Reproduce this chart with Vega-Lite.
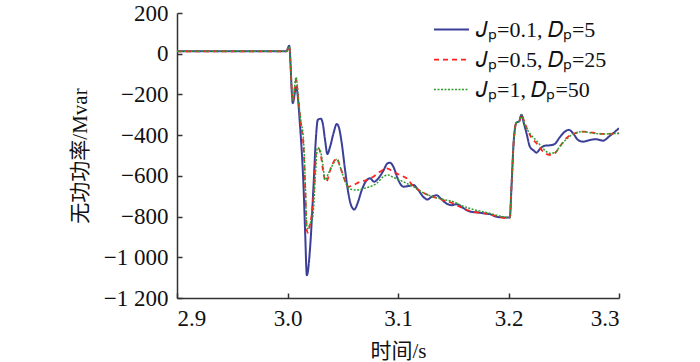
{
  "$schema": "https://vega.github.io/schema/vega-lite/v6.json",
  "autosize": {"type": "none"},
  "padding": {"left": 177, "top": 13, "right": 81, "bottom": 64},
  "width": 442,
  "height": 285,
  "background": "white",
  "config": {
    "font": "Liberation Serif, Times New Roman, serif",
    "view": {"stroke": null},
    "axis": {
      "grid": false,
      "domainColor": "#333333",
      "domainWidth": 1.5,
      "tickColor": "#333333",
      "tickWidth": 1.5,
      "tickSize": -5,
      "labelFont": "Liberation Serif, Times New Roman, serif",
      "labelFontSize": 23,
      "labelColor": "#111111",
      "titleFont": "Liberation Serif, Times New Roman, Noto Sans CJK SC, serif",
      "titleFontSize": 21,
      "titleFontWeight": "normal",
      "titleColor": "#111111"
    },
    "legend": {
      "labelFont": "Liberation Serif, Times New Roman, serif"
    }
  },
  "data": {"values": [
    {"s":"a","t":2.9,"q":12},{"s":"a","t":2.999,"q":12},{"s":"a","t":3.0015,"q":39},{"s":"a","t":3.0048,"q":-243},{"s":"a","t":3.0078,"q":-164},{"s":"a","t":3.0114,"q":-358},{"s":"a","t":3.0145,"q":-653},{"s":"a","t":3.016,"q":-883},{"s":"a","t":3.0175,"q":-1088},{"s":"a","t":3.0205,"q":-949},{"s":"a","t":3.0235,"q":-653},{"s":"a","t":3.0256,"q":-424},{"s":"a","t":3.0274,"q":-325},{"s":"a","t":3.0301,"q":-319},{"s":"a","t":3.0319,"q":-342},{"s":"a","t":3.034,"q":-424},{"s":"a","t":3.0361,"q":-493},{"s":"a","t":3.0386,"q":-456},{"s":"a","t":3.0416,"q":-391},{"s":"a","t":3.0446,"q":-345},{"s":"a","t":3.0467,"q":-366},{"s":"a","t":3.0491,"q":-440},{"s":"a","t":3.0521,"q":-571},{"s":"a","t":3.0551,"q":-686},{"s":"a","t":3.0581,"q":-752},{"s":"a","t":3.0605,"q":-765},{"s":"a","t":3.0633,"q":-736},{"s":"a","t":3.0672,"q":-670},{"s":"a","t":3.0717,"q":-621},{"s":"a","t":3.0747,"q":-612},{"s":"a","t":3.0783,"q":-629},{"s":"a","t":3.0822,"q":-612},{"s":"a","t":3.0867,"q":-575},{"s":"a","t":3.0904,"q":-539},{"s":"a","t":3.0928,"q":-535},{"s":"a","t":3.0958,"q":-555},{"s":"a","t":3.1003,"q":-621},{"s":"a","t":3.1048,"q":-653},{"s":"a","t":3.1093,"q":-650},{"s":"a","t":3.1139,"q":-645},{"s":"a","t":3.1184,"q":-670},{"s":"a","t":3.1229,"q":-703},{"s":"a","t":3.1265,"q":-716},{"s":"a","t":3.1304,"q":-703},{"s":"a","t":3.1349,"q":-695},{"s":"a","t":3.1386,"q":-711},{"s":"a","t":3.144,"q":-736},{"s":"a","t":3.1485,"q":-744},{"s":"a","t":3.153,"q":-739},{"s":"a","t":3.1575,"q":-752},{"s":"a","t":3.162,"q":-768},{"s":"a","t":3.1666,"q":-777},{"s":"a","t":3.1726,"q":-780},{"s":"a","t":3.1786,"q":-785},{"s":"a","t":3.1831,"q":-788},{"s":"a","t":3.1892,"q":-801},{"s":"a","t":3.1952,"q":-804},{"s":"a","t":3.2012,"q":-804},{"s":"a","t":3.2027,"q":-653},{"s":"a","t":3.2048,"q":-424},{"s":"a","t":3.2072,"q":-338},{"s":"a","t":3.2096,"q":-333},{"s":"a","t":3.2117,"q":-300},{"s":"a","t":3.2139,"q":-342},{"s":"a","t":3.2163,"q":-391},{"s":"a","t":3.2193,"q":-456},{"s":"a","t":3.2229,"q":-476},{"s":"a","t":3.2253,"q":-486},{"s":"a","t":3.2283,"q":-469},{"s":"a","t":3.2328,"q":-452},{"s":"a","t":3.2373,"q":-450},{"s":"a","t":3.2419,"q":-443},{"s":"a","t":3.2458,"q":-415},{"s":"a","t":3.2509,"q":-383},{"s":"a","t":3.2548,"q":-374},{"s":"a","t":3.2584,"q":-391},{"s":"a","t":3.263,"q":-424},{"s":"a","t":3.2675,"q":-432},{"s":"a","t":3.2735,"q":-424},{"s":"a","t":3.2795,"q":-420},{"s":"a","t":3.2855,"q":-427},{"s":"a","t":3.2916,"q":-404},{"s":"a","t":3.3,"q":-366},
    {"s":"b","t":2.9,"q":12},{"s":"b","t":2.999,"q":12},{"s":"b","t":3.0015,"q":36},{"s":"b","t":3.0048,"q":-235},{"s":"b","t":3.0078,"q":-128},{"s":"b","t":3.0099,"q":-227},{"s":"b","t":3.012,"q":-342},{"s":"b","t":3.0145,"q":-456},{"s":"b","t":3.016,"q":-653},{"s":"b","t":3.0175,"q":-867},{"s":"b","t":3.0184,"q":-880},{"s":"b","t":3.0199,"q":-850},{"s":"b","t":3.022,"q":-785},{"s":"b","t":3.0241,"q":-653},{"s":"b","t":3.0259,"q":-489},{"s":"b","t":3.028,"q":-465},{"s":"b","t":3.0301,"q":-497},{"s":"b","t":3.0325,"q":-588},{"s":"b","t":3.0349,"q":-629},{"s":"b","t":3.04,"q":-550},{"s":"b","t":3.0446,"q":-514},{"s":"b","t":3.0476,"q":-555},{"s":"b","t":3.0506,"q":-604},{"s":"b","t":3.0551,"q":-653},{"s":"b","t":3.0596,"q":-645},{"s":"b","t":3.0657,"q":-629},{"s":"b","t":3.0717,"q":-621},{"s":"b","t":3.0777,"q":-604},{"s":"b","t":3.0837,"q":-580},{"s":"b","t":3.0898,"q":-563},{"s":"b","t":3.0958,"q":-580},{"s":"b","t":3.1018,"q":-596},{"s":"b","t":3.1078,"q":-612},{"s":"b","t":3.1139,"q":-650},{"s":"b","t":3.1229,"q":-683},{"s":"b","t":3.1319,"q":-703},{"s":"b","t":3.141,"q":-719},{"s":"b","t":3.15,"q":-736},{"s":"b","t":3.159,"q":-760},{"s":"b","t":3.1681,"q":-777},{"s":"b","t":3.1801,"q":-785},{"s":"b","t":3.1892,"q":-798},{"s":"b","t":3.1997,"q":-809},{"s":"b","t":3.2012,"q":-804},{"s":"b","t":3.2027,"q":-653},{"s":"b","t":3.2048,"q":-424},{"s":"b","t":3.2072,"q":-338},{"s":"b","t":3.2096,"q":-333},{"s":"b","t":3.2117,"q":-300},{"s":"b","t":3.2148,"q":-342},{"s":"b","t":3.2193,"q":-399},{"s":"b","t":3.2253,"q":-440},{"s":"b","t":3.2313,"q":-481},{"s":"b","t":3.2373,"q":-497},{"s":"b","t":3.2419,"q":-489},{"s":"b","t":3.2464,"q":-456},{"s":"b","t":3.2524,"q":-415},{"s":"b","t":3.2599,"q":-391},{"s":"b","t":3.2675,"q":-383},{"s":"b","t":3.2765,"q":-388},{"s":"b","t":3.2855,"q":-394},{"s":"b","t":3.3,"q":-391},
    {"s":"c","t":2.9,"q":12},{"s":"c","t":2.999,"q":12},{"s":"c","t":3.0015,"q":36},{"s":"c","t":3.0048,"q":-227},{"s":"c","t":3.0078,"q":-115},{"s":"c","t":3.0099,"q":-227},{"s":"c","t":3.012,"q":-325},{"s":"c","t":3.0145,"q":-424},{"s":"c","t":3.016,"q":-621},{"s":"c","t":3.0175,"q":-850},{"s":"c","t":3.0184,"q":-859},{"s":"c","t":3.0205,"q":-834},{"s":"c","t":3.0229,"q":-801},{"s":"c","t":3.025,"q":-621},{"s":"c","t":3.0271,"q":-461},{"s":"c","t":3.0295,"q":-473},{"s":"c","t":3.0319,"q":-539},{"s":"c","t":3.034,"q":-621},{"s":"c","t":3.037,"q":-588},{"s":"c","t":3.0416,"q":-539},{"s":"c","t":3.0446,"q":-519},{"s":"c","t":3.0476,"q":-555},{"s":"c","t":3.0506,"q":-604},{"s":"c","t":3.0536,"q":-645},{"s":"c","t":3.0581,"q":-667},{"s":"c","t":3.0627,"q":-670},{"s":"c","t":3.0687,"q":-662},{"s":"c","t":3.0747,"q":-653},{"s":"c","t":3.0807,"q":-637},{"s":"c","t":3.0867,"q":-604},{"s":"c","t":3.0913,"q":-596},{"s":"c","t":3.0958,"q":-608},{"s":"c","t":3.1018,"q":-621},{"s":"c","t":3.1078,"q":-637},{"s":"c","t":3.1139,"q":-653},{"s":"c","t":3.1229,"q":-683},{"s":"c","t":3.1319,"q":-703},{"s":"c","t":3.141,"q":-716},{"s":"c","t":3.15,"q":-727},{"s":"c","t":3.159,"q":-749},{"s":"c","t":3.1681,"q":-765},{"s":"c","t":3.1801,"q":-780},{"s":"c","t":3.1892,"q":-793},{"s":"c","t":3.1997,"q":-804},{"s":"c","t":3.2012,"q":-804},{"s":"c","t":3.2027,"q":-653},{"s":"c","t":3.2048,"q":-424},{"s":"c","t":3.2072,"q":-338},{"s":"c","t":3.2096,"q":-333},{"s":"c","t":3.2117,"q":-300},{"s":"c","t":3.2148,"q":-350},{"s":"c","t":3.2193,"q":-391},{"s":"c","t":3.2253,"q":-427},{"s":"c","t":3.2313,"q":-465},{"s":"c","t":3.2373,"q":-489},{"s":"c","t":3.2419,"q":-486},{"s":"c","t":3.2464,"q":-456},{"s":"c","t":3.2524,"q":-420},{"s":"c","t":3.2599,"q":-391},{"s":"c","t":3.2675,"q":-383},{"s":"c","t":3.2765,"q":-391},{"s":"c","t":3.2855,"q":-394},{"s":"c","t":3.3,"q":-391}
  ]},
  "mark": {"type": "line", "interpolate": "monotone", "clip": true},
  "encoding": {
    "x": {
      "field": "t", "type": "quantitative",
      "scale": {"domain": [2.9, 3.3], "nice": false, "zero": false},
      "axis": {"values": [2.9, 3.0, 3.1, 3.2, 3.3], "format": ".1f", "title": "时间/s", "labelPadding": 14, "titlePadding": 10}
    },
    "y": {
      "field": "q", "type": "quantitative",
      "scale": {"domain": [-1200, 200], "nice": false},
      "axis": {"values": [-1200, -1000, -800, -600, -400, -200, 0, 200], "labelExpr": "replace(format(datum.value, ','), ',', ' ')", "title": "无功功率/Mvar", "labelPadding": 14, "titlePadding": 13}
    },
    "color": {
      "field": "s", "type": "nominal",
      "scale": {"domain": ["a", "b", "c"], "range": ["#3b3f98", "#ff2020", "#2e9e2e"]},
      "legend": {
        "title": null,
        "orient": "none",
        "legendX": 256,
        "legendY": -2,
        "symbolType": "stroke",
        "symbolSize": 1225,
        "symbolStrokeWidth": 1.5,
        "labelFontSize": 22,
        "labelColor": "#111111",
        "labelOffset": 6,
        "rowPadding": 0,
        "labelLimit": 300,
        "labelExpr": "datum.value == 'a' ? '𝐽ₚ=0.1, 𝐷ₚ=5' : datum.value == 'b' ? '𝐽ₚ=0.5, 𝐷ₚ=25' : '𝐽ₚ=1, 𝐷ₚ=50'"
      }
    },
    "strokeDash": {
      "field": "s", "type": "nominal",
      "scale": {"domain": ["a", "b", "c"], "range": [[1, 0], [5, 4], [2, 1.5]]},
      "legend": null
    },
    "strokeWidth": {
      "field": "s", "type": "nominal",
      "scale": {"domain": ["a", "b", "c"], "range": [2, 1.5, 1.6]},
      "legend": null
    }
  }
}
